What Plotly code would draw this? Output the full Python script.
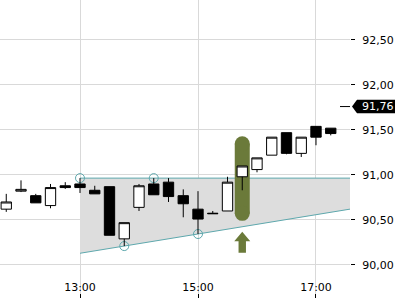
import plotly.graph_objects as go

# ---------------- data ----------------
day = "2024-03-15 "
time_labels = ["11:45", "12:00", "12:15", "12:30", "12:45", "13:00", "13:15", "13:30",
               "13:45", "14:00", "14:15", "14:30", "14:45", "15:00", "15:15", "15:30",
               "15:45", "16:00", "16:15", "16:30", "16:45", "17:00", "17:15"]
open_ = [90.62, 90.82, 90.77, 90.66, 90.88, 90.90, 90.83, 90.87, 90.29, 90.64, 90.90, 90.92,
         90.77, 90.62, 90.575, 90.60, 90.98, 91.06, 91.22, 91.47, 91.24, 91.54, 91.52]
high = [90.79, 90.94, 90.79, 90.90, 90.92, 90.965, 90.88, 90.87, 90.47, 90.90, 90.965, 90.965,
        90.84, 90.82, 90.60, 90.98, 91.10, 91.19, 91.42, 91.47, 91.42, 91.54, 91.52]
low = [90.59, 90.81, 90.69, 90.63, 90.845, 90.80, 90.79, 90.33, 90.21, 90.60, 90.78, 90.70,
       90.53, 90.344, 90.57, 90.60, 90.83, 91.03, 91.22, 91.23, 91.20, 91.33, 91.44]
close = [90.70, 90.84, 90.69, 90.86, 90.86, 90.86, 90.79, 90.33, 90.47, 90.88, 90.78, 90.76,
         90.68, 90.51, 90.57, 90.92, 91.10, 91.19, 91.42, 91.24, 91.42, 91.42, 91.46]

# triangle pattern
resistance_times = ["13:00", "17:40"]
resistance_values = [90.965, 90.965]
support_times = ["13:00", "17:40"]
support_values = [90.13, 90.63]
pivot_times = ["13:00", "13:45", "14:15", "15:00"]
pivot_values = [90.965, 90.21, 90.965, 90.344]

# breakout highlight
highlight_time = "15:45"
highlight_top = 91.43
highlight_bottom = 90.49
arrow_tip = 90.37

last_price = 91.76
last_price_label = "91,76"

x_tick_labels = ["13:00", "15:00", "17:00"]

# ---------------- layout constants ----------------
W, H = 400, 300
M_R, M_B = 50, 2
x_range = [day + "11:38:38", day + "17:34:35"]
y_range = [89.633, 92.944]
px_per_unit = (H - M_B) / (y_range[1] - y_range[0])

TEAL = "#5ea8ad"
GREEN = "#6b7a3a"
GRID = "#d9d9d9"
FONT = dict(family="DejaVu Sans", size=11, color="black")

t = lambda s: day + s

fig = go.Figure()

# shaded triangle (main subplot)
poly_x = [t(s) for s in resistance_times] + [t(s) for s in support_times[::-1]]
poly_y = resistance_values + support_values[::-1]
fig.add_trace(go.Scatter(x=poly_x, y=poly_y, fill="toself", fillcolor="#dddddd",
                         line=dict(width=0), mode="lines", hoverinfo="skip",
                         xaxis="x", yaxis="y"))
fig.add_trace(go.Scatter(x=[t(s) for s in resistance_times], y=resistance_values, mode="lines",
                         line=dict(color=TEAL, width=1), xaxis="x", yaxis="y"))
fig.add_trace(go.Scatter(x=[t(s) for s in support_times], y=support_values, mode="lines",
                         line=dict(color=TEAL, width=1), xaxis="x", yaxis="y"))
fig.add_trace(go.Scatter(x=[t(s) for s in pivot_times], y=pivot_values, mode="markers",
                         marker=dict(symbol="circle-open", size=9, color=TEAL,
                                     line=dict(width=1, color=TEAL)),
                         xaxis="x", yaxis="y"))

# highlight pill
cap_r = 7.5 / px_per_unit
fig.add_trace(go.Scatter(x=[t(highlight_time), t(highlight_time)],
                         y=[highlight_top - cap_r, highlight_bottom + cap_r],
                         mode="lines+markers",
                         line=dict(color=GREEN, width=15),
                         marker=dict(size=15, color=GREEN, line=dict(width=0)),
                         xaxis="x", yaxis="y"))

# candles on overlay subplot so they are drawn above
fig.add_trace(go.Candlestick(
    x=[t(s) for s in time_labels], open=open_, high=high, low=low, close=close,
    increasing=dict(fillcolor="white", line=dict(color="black", width=1)),
    decreasing=dict(fillcolor="black", line=dict(color="black", width=1)),
    whiskerwidth=0, xaxis="x2", yaxis="y2"))

# up arrow
fig.add_shape(type="path", xref="x", yref="y", xsizemode="pixel", ysizemode="pixel",
              xanchor=t(highlight_time), yanchor=arrow_tip,
              path="M0,0 L8,-9.5 L3.7,-9.5 L3.7,-21 L-3.7,-21 L-3.7,-9.5 L-8,-9.5 Z",
              fillcolor=GREEN, line=dict(width=0), layer="above")

# last price marker
fig.add_shape(type="line", xref="paper", yref="y", xsizemode="pixel", xanchor=1,
              x0=-10, x1=0, y0=last_price, y1=last_price,
              line=dict(color="black", width=1))
fig.add_shape(type="path", xref="paper", yref="y", xsizemode="pixel", ysizemode="pixel",
              xanchor=1, yanchor=last_price,
              path="M2,0 L7,6.7 L45,6.7 L45,-6.7 L7,-6.7 Z",
              fillcolor="black", line=dict(width=0), layer="above")
fig.add_annotation(xref="paper", yref="y", x=1, y=last_price, xanchor="left", yanchor="middle",
                   xshift=10, text=last_price_label, showarrow=False,
                   font=dict(family="DejaVu Sans", size=11, color="white"))

fig.update_layout(
    width=W, height=H, margin=dict(l=0, r=M_R, t=0, b=M_B, pad=0),
    paper_bgcolor="white", plot_bgcolor="white", showlegend=False,
    separators=",.", font=FONT, boxgap=0.3, boxgroupgap=0,
    xaxis=dict(type="date", domain=[0, 1], range=x_range,
               tickvals=[t(s) for s in x_tick_labels], ticktext=x_tick_labels,
               ticks="inside", ticklen=4, tickcolor="black",
               ticklabelposition="inside", tickfont=FONT,
               showgrid=True, gridcolor=GRID, gridwidth=1, showline=False, zeroline=False,
               rangeslider=dict(visible=False), fixedrange=True),
    yaxis=dict(side="right", range=y_range, tick0=90, dtick=0.5, tickformat=".2f",
               ticks="outside", ticklen=4, tickcolor="black", tickfont=FONT,
               ticklabelstandoff=5,
               showgrid=True, gridcolor=GRID, gridwidth=1, showline=False, zeroline=False),
    xaxis2=dict(type="date", overlaying="x", anchor="y2", range=x_range, visible=False,
                rangeslider=dict(visible=False)),
    yaxis2=dict(overlaying="y", anchor="x2", side="right", range=y_range, visible=False),
)

fig.write_html("out.html")
